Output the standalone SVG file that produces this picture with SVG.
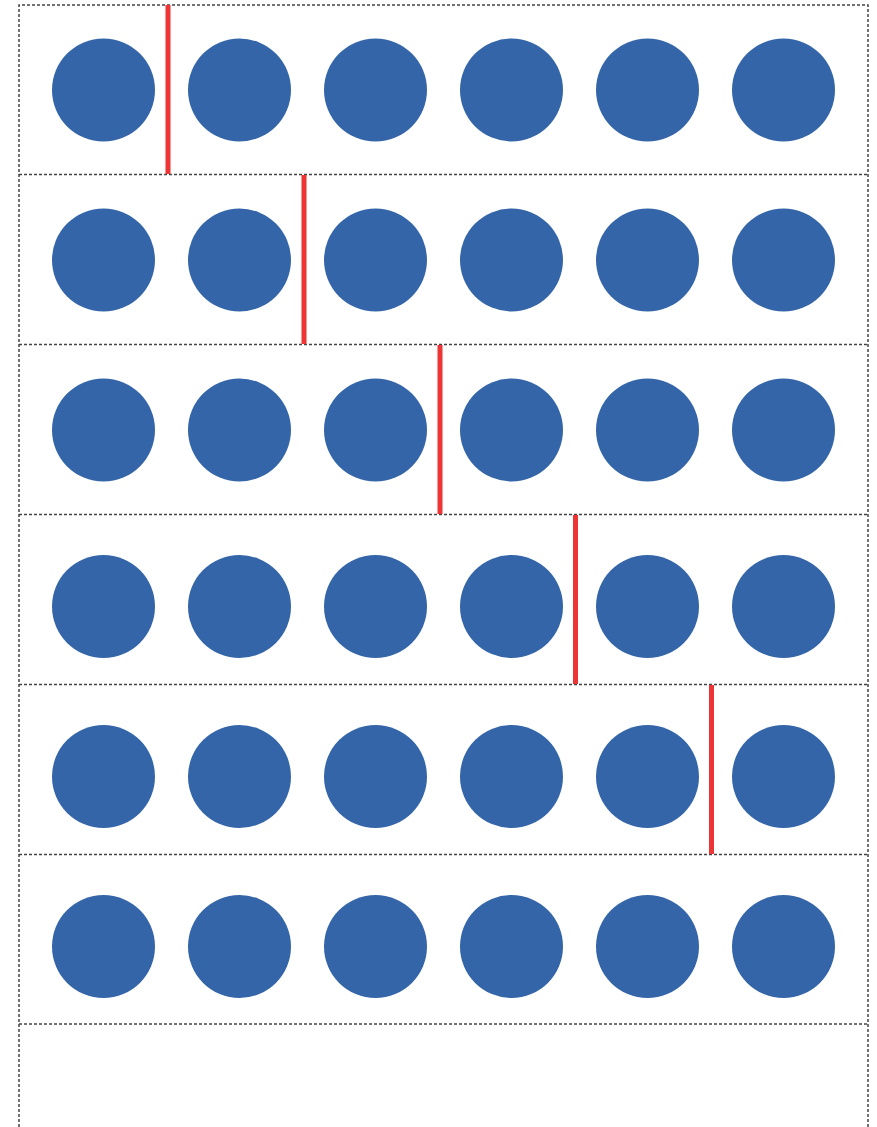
<svg xmlns="http://www.w3.org/2000/svg" width="877" height="1127" viewBox="0 0 877 1127">
<style>
.frame{fill:none;stroke:#444;stroke-width:1.5;stroke-dasharray:3 2}
.dot{fill:#3465a8}
.cut{stroke:#ee3535;stroke-width:5}
</style>
<defs>
<g id="row">
<circle class="dot" cx="103.5" cy="0" r="51.5"/>
<circle class="dot" cx="239.5" cy="0" r="51.5"/>
<circle class="dot" cx="375.5" cy="0" r="51.5"/>
<circle class="dot" cx="511.5" cy="0" r="51.5"/>
<circle class="dot" cx="647.5" cy="0" r="51.5"/>
<circle class="dot" cx="783.5" cy="0" r="51.5"/>
</g>
</defs>
<rect width="877" height="1127" fill="#fff"/>
<g id="frames">
<path class="frame" d="M19 1127 V5 H868 V1127"/>
<path class="frame" d="M19 174.5 H868 M19 344.5 H868 M19 514.5 H868 M19 684.5 H868 M19 854.5 H868 M19 1024 H868"/>
</g>
<g id="row1"><use href="#row" y="90"/></g>
<g id="row2"><use href="#row" y="260"/></g>
<g id="row3"><use href="#row" y="430"/></g>
<g id="row4"><use href="#row" y="606.5"/></g>
<g id="row5"><use href="#row" y="776.5"/></g>
<g id="row6"><use href="#row" y="946.5"/></g>
<g id="cuts">
<line class="cut" x1="168" y1="5" x2="168" y2="174"/>
<line class="cut" x1="304" y1="175" x2="304" y2="344"/>
<line class="cut" x1="440" y1="345" x2="440" y2="514"/>
<line class="cut" x1="575.5" y1="515" x2="575.5" y2="684"/>
<line class="cut" x1="711.5" y1="685" x2="711.5" y2="854"/>
</g>
</svg>
